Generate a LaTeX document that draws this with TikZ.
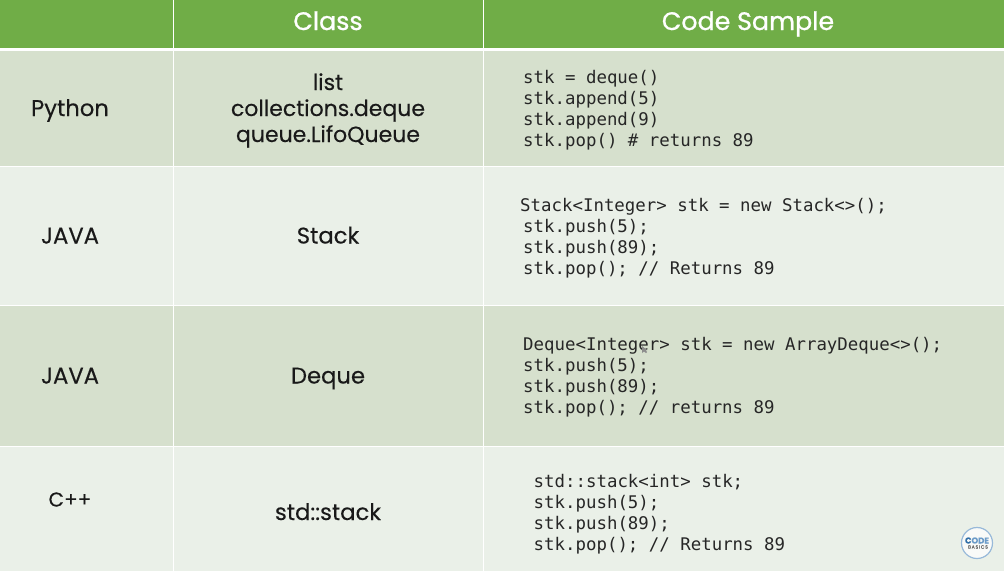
\documentclass[tikz,border=0pt]{standalone}
\usepackage{fontspec}
\setmainfont[FakeBold=0.25]{Poppins}
\setmonofont{DejaVu Sans Mono}
\newfontfamily\headfont[FakeBold=0.9]{Poppins}
\usepackage{xcolor}
\usetikzlibrary{positioning}
\definecolor{headgreen}{HTML}{70AD47}
\definecolor{rowdark}{HTML}{D6E0CD}
\definecolor{rowlight}{HTML}{EAF0E8}
\definecolor{logoblue}{HTML}{6C9BC8}
\definecolor{logodark}{HTML}{2F6EA8}
\tikzset{headtext/.style={anchor=base,inner sep=0pt,text=white,font=\headfont\fontsize{25.3}{30}\selectfont}}
\tikzset{celltext/.style={anchor=base,inner sep=0pt,text=black!90,align=center,font=\fontsize{22.7}{26}\selectfont}}
\tikzset{listtext/.style={celltext,anchor=center,font=\fontsize{22}{26}\selectfont}}
\tikzset{smalltext/.style={celltext,font=\fontsize{20}{26}\selectfont}}
\tikzset{codeline/.style={anchor=base west,inner sep=0pt,text=black!85,font=\ttfamily\fontsize{17.4}{21}\selectfont}}
\tikzset{rule/.style={draw=white,line width=1pt}}

\begin{document}
\begin{tikzpicture}[x=1pt,y=-1pt]
\useasboundingbox (0,0) rectangle (1004,571);
{
\fill[white] (0,0) rectangle (1004,571);
\fill[headgreen] (0,0) rectangle (1004,48);
\fill[rowdark] (0,51) rectangle (1004,166);
\fill[rowlight] (0,167) rectangle (1004,305);
\fill[rowdark] (0,306) rectangle (1004,446);
\fill[rowlight] (0,447) rectangle (1004,571);
% column rules
\coordinate (ruletop1) at (173.5,0);
\coordinate (rulebot1) at (173.5,571);
\coordinate (ruletop2) at (483.5,0);
\coordinate (rulebot2) at (483.5,571);
\draw[rule] (ruletop1) -- (rulebot1);
\draw[rule] (ruletop2) -- (rulebot2);
% header
\node[headtext] (headclass) at (328,30) {Class};
\node[headtext] (headcode) at (748,30) {Code Sample};
% first column
\node[celltext] (langpython) at (70,116) {Python};
\node[celltext] (langjava) at (70,243.5) {JAVA};
\node[celltext] (langdeque) at (70,383.5) {JAVA};
\node[smalltext] (langcpp) at (70,506.5) {C++};
% second column
\node[listtext] (classlist) at (328,110.5) {list\\collections.deque\\queue.LifoQueue};
\node[celltext] (classstack) at (328,243.5) {Stack};
\node[celltext] (classdeque) at (328,383.5) {Deque};
\node[celltext] (classstd) at (328,520) {std::stack};
% code samples
\node[codeline] (py1) at (523,83) {stk = deque()};
\node[codeline] (py2) at (523,104) {stk.append(5)};
\node[codeline] (py3) at (523,125) {stk.append(9)};
\node[codeline] (py4) at (523,146) {stk.pop() \# returns 89};
\node[codeline] (st1) at (520,211) {Stack<Integer> stk = new Stack<>();};
\node[codeline] (st2) at (523,232) {stk.push(5);};
\node[codeline] (st3) at (523,253) {stk.push(89);};
\node[codeline] (st4) at (523,274) {stk.pop(); // Returns 89};
\node[codeline] (dq1) at (523,350) {Deque<Integer> stk = new ArrayDeque<>();};
\node[codeline] (dq2) at (523,371) {stk.push(5);};
\node[codeline] (dq3) at (523,392) {stk.push(89);};
\node[codeline] (dq4) at (523,413) {stk.pop(); // returns 89};
\node[codeline] (cp1) at (533.5,487) {std::stack<int> stk;};
\node[codeline] (cp2) at (533.5,508) {stk.push(5);};
\node[codeline] (cp3) at (533.5,529) {stk.push(89);};
\node[codeline] (cp4) at (533.5,550) {stk.pop(); // Returns 89};
% logo
\node[circle,draw=logoblue!70,line width=1.2pt,fill=white!70!rowlight,minimum size=31pt,inner sep=0pt] (logo) at (977,543) {};
\node[inner sep=0pt,text=logoblue,font=\bfseries\fontsize{8.5}{9}\selectfont] (logocode) at (977,540.5) {\textcolor{logodark}{C}ODE};
\node[inner sep=0pt,text=black!60,font=\fontsize{4.6}{5}\selectfont] (logobasics) at (978,547) {B\,A\,S\,I\,C\,S};
% pointer
\fill[black!45] (642,346) -- (642,353) -- (644,351.5) -- (646,353) -- (647,352) -- (645.5,350.5) -- (647,350) -- cycle;
}
\end{tikzpicture}
\end{document}
